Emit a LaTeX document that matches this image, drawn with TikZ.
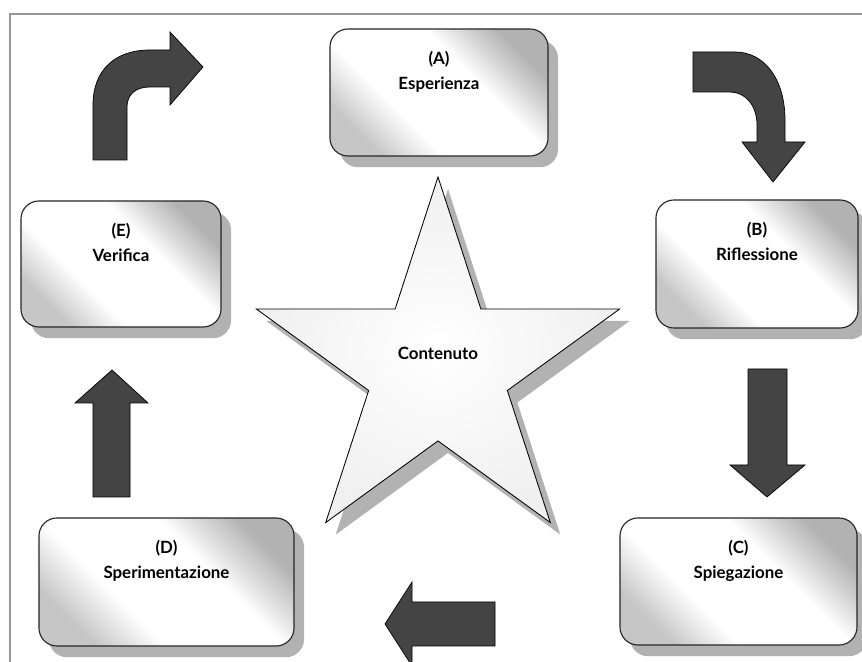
\documentclass[tikz,border=0pt]{standalone}
\usepackage{fontspec}
\setmainfont{Lato}
\usetikzlibrary{shapes.geometric,shadows,positioning}

\pgfdeclarehorizontalshading{metal}{100bp}{color(0bp)=(gray!45); color(25bp)=(gray!45); color(38bp)=(white); color(60bp)=(white); color(75bp)=(gray!60); color(100bp)=(gray!60)}
\definecolor{arrowgray}{RGB}{68,68,68}
\definecolor{framegray}{RGB}{150,150,150}

\tikzset{
    stage/.style={draw=black!85, line width=0.8pt, rounded corners=0.45cm, inner sep=0pt,
        shading=metal, shading angle=45,
        drop shadow={shadow xshift=0.25cm, shadow yshift=-0.28cm, fill=gray!60, opacity=1}},
    stagetext/.style={align=center, inner sep=0pt, font=\bfseries\fontsize{12}{17.8}\selectfont},
    blockarrow/.style={fill=arrowgray, draw=black, line width=0.5pt, line join=miter},
}

\begin{document}
\begin{tikzpicture}[x=0.025cm, y=0.025cm]
        \useasboundingbox (0,0) rectangle (862,662);
        \draw[framegray, line width=1.2pt] (10,0) -- (10,648) -- (862,648);

        \node[star, star points=5, star point ratio=2.62, minimum size=9.55cm, inner sep=0pt,
              draw, line width=0.6pt, shading=radial, inner color=white, outer color=gray!12,
              drop shadow={shadow xshift=0.25cm, shadow yshift=-0.3cm, fill=gray!60, opacity=1}] (s) at (438,294) {};
        \node[stagetext] (cs) at (438,309) {Contenuto};

        \node[stage, minimum width=5.45cm,  minimum height=3.175cm] (a) at (439,569.5) {};
        \node[stage, minimum width=5.05cm,  minimum height=3.2cm]   (b) at (757,398)   {};
        \node[stage, minimum width=5.925cm, minimum height=3.175cm] (c) at (738.5,80.5) {};
        \node[stage, minimum width=6.375cm, minimum height=3.2cm]   (d) at (166.5,80)  {};
        \node[stage, minimum width=5cm,     minimum height=3.15cm]  (e) at (121,398)   {};

        \node[stagetext, below=0.575cm of a.north] (ta) {(A)\\Esperienza};
        \node[stagetext, below=0.575cm of b.north] (tb) {(B)\\Riflessione};
        \node[stagetext, below=0.575cm of c.north] (tc) {(C)\\Spiegazione};
        \node[stagetext, below=0.575cm of d.north] (td) {(D)\\Sperimentazione};
        \node[stagetext, below=0.575cm of e.north] (te) {(E)\\Verifica};

        \draw[blockarrow] (93,502) -- (93,557) .. controls (93,592) and (115,612) .. (150,612)
            -- (170,612) -- (170,630) -- (203,595) -- (170,557) -- (170,575) -- (150,575)
            .. controls (135,575) and (127,567) .. (127,555) -- (127,502) -- cycle;
        \draw[blockarrow] (693,610) -- (735,610) .. controls (765,610) and (785,582) .. (785,542)
            -- (785,520) -- (805,520) -- (773,480) -- (742,520) -- (757,520) -- (757,537)
            .. controls (757,557) and (745,570) .. (730,570) -- (693,570) -- cycle;
        \draw[blockarrow] (748,293) -- (787,293) -- (787,197) -- (805,197) -- (767,165)
            -- (730,197) -- (748,197) -- cycle;
        \draw[blockarrow] (495,60) -- (412,60) -- (412,80) -- (385,38) -- (412,-4)
            -- (412,16) -- (495,16) -- cycle;
        \draw[blockarrow] (93,165) -- (93,259) -- (75,259) -- (112,292) -- (148,259)
            -- (130,259) -- (130,165) -- cycle;
\end{tikzpicture}
\end{document}
